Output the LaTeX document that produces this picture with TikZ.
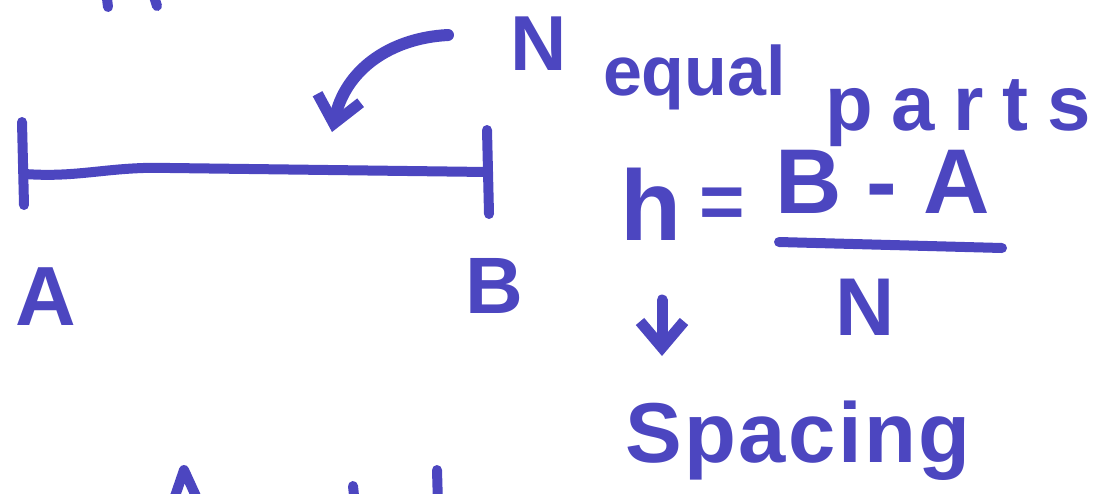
\documentclass[tikz,border=0pt]{standalone}
\usepackage{fontspec}
\setmainfont{Liberation Sans}
\usetikzlibrary{arrows.meta}
\definecolor{ink}{RGB}{76,70,192}
\begin{document}
\begin{tikzpicture}[x=1pt,y=-1pt,
  pen/.style={draw=ink,line width=10pt,line cap=round,line join=round},
  hw/.style={text=ink,inner sep=0pt,outer sep=0pt,anchor=base west},
  barb/.style={-{Straight Barb[length=26pt,width=44pt,line width=11pt]}}]
\useasboundingbox (0,0) rectangle (1107,493);
\clip (0,0) rectangle (1107,493);
% cut-off fragments at the edges
\draw[pen] (106,-10) -- (108,7);
\draw[pen] (152,-10) -- (157,6);
\draw[pen] (172,505) -- (184,470) -- (200,505);
\draw[pen] (353,486) -- (355,505);
\draw[pen] (437,470) -- (438,505);
% segment
\coordinate (segL) at (25,174);
\coordinate (segR) at (487,172);
\draw[pen] (22,122) -- (24,205);
\draw[pen] (487,130) -- (489,214);
\draw[pen] (segL) .. controls (80,178) and (110,166) .. (170,168) -- (segR);
\node[hw,font={\fontsize{84pt}{90pt}\selectfont\bfseries}] (lblA) at (15,325) {A};
\node[hw,font={\fontsize{80pt}{86pt}\selectfont\bfseries}] (lblB) at (465,313) {B};
% N equal parts
\node[hw,font={\fontsize{78pt}{84pt}\selectfont\bfseries}] (tN) at (510,70) {N};
\node[hw,font={\fontsize{70pt}{76pt}\selectfont\bfseries}] (tEq) at (603,95) {equal};
\node[hw,font={\fontsize{78pt}{84pt}\selectfont\bfseries\addfontfeatures{LetterSpace=24}}] (tParts) at (825,130) {parts};
% curved arrow
\coordinate (arrS) at (448,35);
\coordinate (arrE) at (332,132);
\draw[pen,line width=12pt,barb] (arrS) .. controls (390,38) and (345,70) .. (arrE);
% formula
\node[hw,font={\fontsize{100pt}{106pt}\selectfont\bfseries}] (fh) at (620,240) {h};
\node[text=ink,inner sep=0pt,font={\fontsize{78pt}{84pt}\selectfont\bfseries}] (feq) at (722,208) {=};
\node[hw,font={\fontsize{92pt}{98pt}\selectfont\bfseries}] (fnum) at (775,213) {B - A};
\draw[pen] (779,242) -- (1002,248);
\node[hw,font={\fontsize{82pt}{88pt}\selectfont\bfseries}] (fden) at (835,335) {N};
% down arrow
\coordinate (dS) at (662,300);
\coordinate (dE) at (662,356);
\draw[pen,line width=11pt,barb] (dS) -- (dE);
\node[hw,font={\fontsize{85pt}{90pt}\selectfont\bfseries\addfontfeatures{LetterSpace=3}}] (tSp) at (625,462) {Spacing};
\end{tikzpicture}
\end{document}
